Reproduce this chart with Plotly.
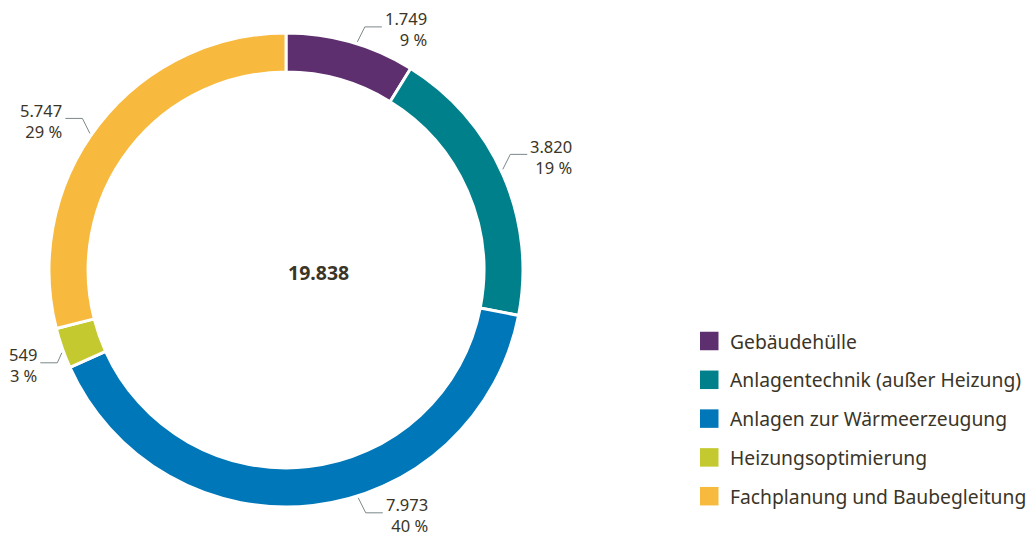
import math
import plotly.graph_objects as go

# ---- data ----
categories = ["Gebäudehülle", "Anlagentechnik (außer Heizung)", "Anlagen zur Wärmeerzeugung",
              "Heizungsoptimierung", "Fachplanung und Baubegleitung"]
values = [1749, 3820, 7973, 549, 5747]
colors = ["#5e2f6e", "#00808a", "#0077b8", "#c3c92e", "#f7b93e"]

# ---- layout config ----
W, H = 1032, 536
CX, CY, R = 286, 270, 237
HOLE = 0.835
label_angle_shift = [1.5, -1.3, -11, -1, -3]
FONT = "Noto Sans"
TXT = "#3b3527"
LINE = "#7d8789"

def fmt(v):
    return f"{v:,}".replace(",", ".")

def px(x):
    return x / W

def py(y):
    return 1 - y / H

total = sum(values)

fig = go.Figure()
fig.add_trace(go.Pie(
    values=values, labels=categories, sort=False, direction="clockwise", rotation=0,
    hole=HOLE, textinfo="none", hoverinfo="label+value+percent",
    marker=dict(colors=colors, line=dict(color="white", width=3)),
    domain=dict(x=[px(CX - R), px(CX + R)], y=[py(CY + R), py(CY - R)]),
    showlegend=False,
))

shapes = []
annotations = []

# center total
annotations.append(dict(x=px(CX), y=py(CY + 2), xref="paper", yref="paper",
                        text=f"<b>{fmt(total)}</b>", showarrow=False,
                        font=dict(family=FONT, size=19.5, color=TXT)))

# slice labels with leader lines
cum = 0
for i, v in enumerate(values):
    mid = (cum + v / 2) / total * 360 + label_angle_shift[i]
    cum += v
    a = math.radians(mid)
    r0 = R + 2
    x0 = CX + r0 * math.sin(a)
    y0 = CY - r0 * math.cos(a)
    sx = 1 if math.sin(a) >= 0 else -1
    sy = -1 if math.cos(a) >= 0 else 1
    if i == 3:
        x1, y1 = x0 + sx * 4.5, y0 + sy * 10
    else:
        x1, y1 = x0 + sx * 7.5, y0 + sy * 15
    x2 = x1 + sx * 17
    shapes.append(dict(type="path", xref="paper", yref="paper",
                       path=f"M{px(x0)},{py(y0)} L{px(x1)},{py(y1)} L{px(x2)},{py(y1)}",
                       line=dict(color=LINE, width=1)))
    pct = round(v / total * 100)
    annotations.append(dict(x=px(x2 + sx * 1), y=py(y1 + 2.5), xref="paper", yref="paper",
                            text=f"{fmt(v)}<br>{pct} %", showarrow=False, align="right",
                            xanchor="left" if sx > 0 else "right", yanchor="middle",
                            font=dict(family=FONT, size=16.5, color=TXT)))

# manual legend
LX, LY0, LDY, SQ = 700, 341, 38.8, 18.5
for i, (c, col) in enumerate(zip(categories, colors)):
    yc = LY0 + i * LDY
    shapes.append(dict(type="rect", xref="paper", yref="paper",
                       x0=px(LX), x1=px(LX + SQ), y0=py(yc + SQ / 2), y1=py(yc - SQ / 2),
                       fillcolor=col, line=dict(width=0)))
    annotations.append(dict(x=px(LX + SQ + 9), y=py(yc), xref="paper", yref="paper",
                            text=c, showarrow=False, xanchor="left", yanchor="middle",
                            font=dict(family=FONT, size=19.3, color=TXT)))

fig.update_layout(
    width=W, height=H, margin=dict(l=0, r=0, t=0, b=0),
    paper_bgcolor="white", plot_bgcolor="white",
    shapes=shapes, annotations=annotations, showlegend=False,
    font=dict(family=FONT, color=TXT),
)

fig.write_html("out.html", config={"displayModeBar": False})

# remove default page margin so the figure sits at the window's top-left corner
with open("out.html", encoding="utf-8") as f:
    html = f.read()
html = html.replace("<head>", "<head><style>html,body{margin:0;padding:0;overflow:hidden;}</style>", 1)
with open("out.html", "w", encoding="utf-8") as f:
    f.write(html)
